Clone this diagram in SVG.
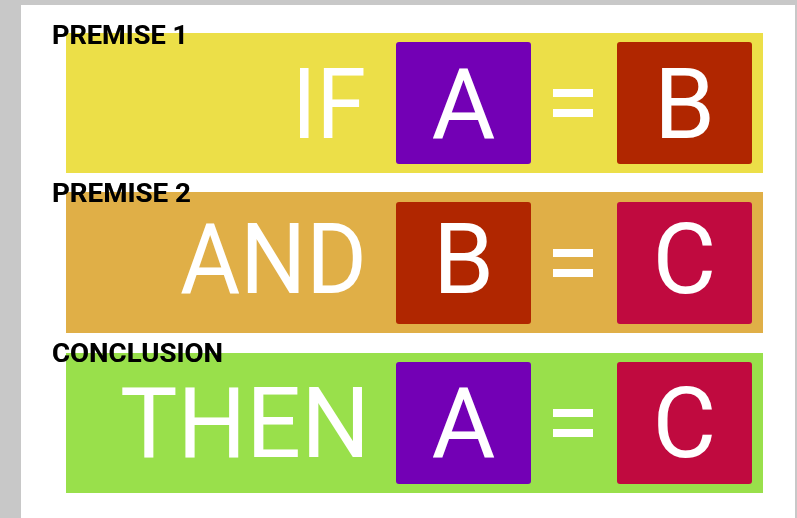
<svg xmlns="http://www.w3.org/2000/svg" width="797" height="518" viewBox="0 0 797 518">
<defs>
<filter id="sh" x="-10%" y="-30%" width="120%" height="160%">
<feGaussianBlur in="SourceAlpha" stdDeviation="0.7" result="b"/>
<feComponentTransfer in="b" result="c"><feFuncA type="linear" slope="0.45"/></feComponentTransfer>
<feMerge><feMergeNode in="c"/><feMergeNode in="SourceGraphic"/></feMerge>
</filter>
</defs>
<style>
.big{font-family:Roboto,"Liberation Sans",sans-serif;font-size:98px;fill:#fff}
.lbl{font-family:Roboto,"Liberation Sans",sans-serif;font-size:25px;font-weight:bold;fill:#000;filter:url(#sh)}
.eq{fill:#fff}
</style>
<rect x="0" y="0" width="797" height="518" fill="#c8c8c8"/>
<rect x="21" y="5" width="774" height="513" fill="#fff"/>
<g id="premise1">
<rect x="66" y="33" width="697" height="140" fill="#ecdf48"/>
<text class="big" x="292" y="138" textLength="74" lengthAdjust="spacingAndGlyphs">IF</text>
<rect x="396" y="42" width="135" height="122" rx="3" fill="#7300b5"/>
<text class="big" x="463.5" y="138" text-anchor="middle">A</text>
<rect class="eq" x="553" y="89" width="40" height="8"/>
<rect class="eq" x="553" y="109" width="40" height="8"/>
<rect x="617" y="42" width="135" height="122" rx="3" fill="#b02600"/>
<text class="big" x="684.5" y="138" text-anchor="middle">B</text>
<text class="lbl" x="52" y="44" textLength="136" lengthAdjust="spacingAndGlyphs">PREMISE 1</text>
</g>
<g id="premise2">
<rect x="66" y="192" width="697" height="141" fill="#e0af47"/>
<text class="big" x="180" y="293" textLength="187" lengthAdjust="spacingAndGlyphs">AND</text>
<rect x="396" y="202" width="135" height="122" rx="3" fill="#b02600"/>
<text class="big" x="463.5" y="293" text-anchor="middle">B</text>
<rect class="eq" x="553" y="249" width="40" height="8"/>
<rect class="eq" x="553" y="269" width="40" height="8"/>
<rect x="617" y="202" width="135" height="122" rx="3" fill="#c00a3f"/>
<text class="big" x="684.5" y="293" text-anchor="middle">C</text>
<text class="lbl" x="52" y="202" textLength="139" lengthAdjust="spacingAndGlyphs">PREMISE 2</text>
</g>
<g id="conclusion">
<rect x="66" y="353" width="697" height="140" fill="#99e04b"/>
<text class="big" x="120" y="457" textLength="250" lengthAdjust="spacingAndGlyphs">THEN</text>
<rect x="396" y="362" width="135" height="122" rx="3" fill="#7300b5"/>
<text class="big" x="463.5" y="457" text-anchor="middle">A</text>
<rect class="eq" x="553" y="409" width="40" height="8"/>
<rect class="eq" x="553" y="429" width="40" height="8"/>
<rect x="617" y="362" width="135" height="122" rx="3" fill="#c00a3f"/>
<text class="big" x="684.5" y="457" text-anchor="middle">C</text>
<text class="lbl" x="52" y="362" textLength="171" lengthAdjust="spacingAndGlyphs">CONCLUSION</text>
</g>
<g id="connectors"/>
</svg>
